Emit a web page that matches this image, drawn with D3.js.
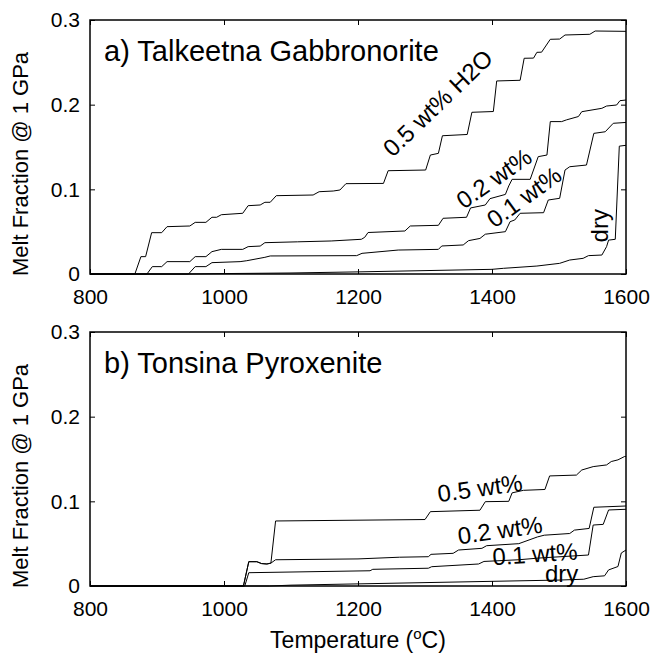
<!DOCTYPE html>
<html>
<head>
<meta charset="utf-8">
<script src="https://cdn.jsdelivr.net/npm/d3@7"></script>
<style>
  body { margin: 0; background: #fff; }
  svg { font-family: "Liberation Sans", Arial, Helvetica, sans-serif; }
  .curve { fill: none; stroke: #000; stroke-width: 1; }
  .tick line { stroke: #000; stroke-width: 1; }
  .tick text { font-size: 21px; fill: #000; }
  .lbl { font-size: 22px; fill: #000; }
  .curve-label { font-size: 24px; }
</style>
</head>
<body>
<svg id="chart"></svg>
<script>
const width = 663;
const height = 655;

// x / y ticks
const tempTicks = [800, 1000, 1200, 1400, 1600];
const fracTicks = [0, 0.1, 0.2, 0.3];

// a) Talkeetna Gabbronorite  [temperature C, melt fraction]
const gabbroWet05 = [[800,0],[867,0],[876,0.0205],[883,0.0205],[892,0.0488],[907,0.0488],[915,0.0559],[949,0.0567],[957,0.061],[973,0.061],[982,0.067],[989,0.067],[996,0.070],[1028,0.0717],[1036,0.0807],[1054,0.0815],[1061,0.0847],[1069,0.0847],[1078,0.0925],[1133,0.0933],[1142,0.0972],[1163,0.098],[1173,0.0992],[1182,0.1067],[1238,0.107],[1245,0.122],[1301,0.1228],[1308,0.1405],[1320,0.1425],[1326,0.1633],[1363,0.1648],[1370,0.191],[1402,0.1919],[1407,0.228],[1442,0.2288],[1448,0.2548],[1462,0.255],[1467,0.2618],[1474,0.262],[1487,0.2772],[1501,0.2775],[1509,0.2823],[1546,0.2831],[1554,0.287],[1600,0.2866]];
const gabbroWet02 = [[800,0],[885,0],[893,0.0087],[907,0.0087],[915,0.0146],[949,0.0146],[957,0.0205],[973,0.0205],[982,0.0264],[996,0.0291],[1028,0.0291],[1036,0.0323],[1054,0.033],[1061,0.037],[1110,0.038],[1160,0.039],[1205,0.041],[1210,0.0433],[1215,0.049],[1270,0.0508],[1278,0.0567],[1320,0.0575],[1327,0.0658],[1362,0.067],[1368,0.078],[1390,0.0815],[1397,0.089],[1420,0.094],[1425,0.104],[1430,0.1118],[1457,0.1118],[1469,0.1386],[1482,0.1405],[1487,0.18],[1504,0.18],[1511,0.182],[1529,0.186],[1534,0.1917],[1564,0.1957],[1571,0.1984],[1586,0.1996],[1591,0.2047],[1600,0.2055]];
const gabbroWet01 = [[800,0],[947,0],[957,0.0087],[973,0.0087],[982,0.0134],[1024,0.0146],[1034,0.0157],[1061,0.0197],[1069,0.0213],[1198,0.0217],[1206,0.0244],[1260,0.0283],[1320,0.0291],[1325,0.0331],[1357,0.0343],[1365,0.0394],[1382,0.042],[1390,0.047],[1420,0.050],[1427,0.0618],[1434,0.0638],[1442,0.0717],[1477,0.0724],[1484,0.0874],[1501,0.0894],[1509,0.1228],[1516,0.1267],[1541,0.1287],[1552,0.1661],[1569,0.168],[1581,0.178],[1600,0.179]];
const gabbroDry = [[800,0],[945,0],[1000,0.0005],[1100,0.0012],[1200,0.0025],[1300,0.004],[1400,0.0055],[1417,0.0067],[1467,0.0094],[1501,0.0126],[1516,0.0165],[1536,0.0185],[1544,0.0217],[1564,0.0224],[1571,0.0323],[1574,0.040],[1584,0.041],[1590,0.151],[1600,0.152]];

// b) Tonsina Pyroxenite
const pyroxWet05 = [[800,0],[1029,0],[1037,0.0287],[1049,0.0287],[1056,0.0265],[1064,0.026],[1070,0.027],[1077,0.0768],[1300,0.0785],[1308,0.0878],[1382,0.0895],[1390,0.0996],[1425,0.100],[1430,0.110],[1447,0.113],[1479,0.114],[1486,0.13],[1526,0.131],[1534,0.137],[1551,0.141],[1571,0.143],[1578,0.147],[1588,0.149],[1598,0.153],[1600,0.153]];
const pyroxWet02 = [[800,0],[1029,0],[1037,0.0287],[1049,0.0287],[1056,0.0265],[1064,0.026],[1070,0.027],[1077,0.031],[1200,0.032],[1262,0.034],[1305,0.0346],[1309,0.0374],[1342,0.0386],[1350,0.0425],[1385,0.0445],[1392,0.0476],[1440,0.05],[1468,0.058],[1478,0.06],[1516,0.062],[1523,0.066],[1545,0.068],[1552,0.093],[1600,0.0945]];
const pyroxWet01 = [[800,0],[1031,0],[1037,0.0157],[1218,0.018],[1222,0.0197],[1305,0.021],[1310,0.0228],[1380,0.026],[1388,0.029],[1440,0.031],[1470,0.033],[1544,0.0366],[1551,0.072],[1566,0.0728],[1574,0.0898],[1600,0.0906]];
const pyroxDry = [[800,0],[1068,0],[1100,0.001],[1200,0.0025],[1300,0.004],[1400,0.0055],[1500,0.007],[1537,0.008],[1551,0.011],[1568,0.012],[1574,0.019],[1588,0.023],[1593,0.039],[1600,0.0425]];

const margin = { left: 90, right: 37 };
const plotW = width - margin.left - margin.right;
const plotH = 254;

const svg = d3.select('#chart')
  .attr('width', width)
  .attr('height', height);

const x = d3.scaleLinear().domain([800, 1600]).range([0, plotW]);
const y = d3.scaleLinear().domain([0, 0.3]).range([plotH, 0]);

const line = d3.line()
  .x(d => x(d[0]))
  .y(d => y(d[1]));

const panels = [
  {
    top: 20,
    title: 'a) Talkeetna Gabbronorite',
    series: [gabbroWet05, gabbroWet02, gabbroWet01, gabbroDry],
    // label text, centre (data units), rotation
    labels: [
      ['0.5 wt% H2O', 1319, 0.202, -44],
      ['0.2 wt%', 1403, 0.113, -35],
      ['0.1 wt%', 1448, 0.091, -36],
      ['dry', 1561, 0.057, -90]
    ]
  },
  {
    top: 332,
    title: 'b) Tonsina Pyroxenite',
    series: [pyroxWet05, pyroxWet02, pyroxWet01, pyroxDry],
    labels: [
      ['0.5 wt%', 1382, 0.1157, -8],
      ['0.2 wt%', 1412, 0.066, -8],
      ['0.1 wt%', 1464, 0.0378, -4],
      ['dry', 1504, 0.0142, 0]
    ]
  }
];

panels.forEach(p => {
  const g = svg.append('g')
    .attr('transform', `translate(${margin.left},${p.top})`);

  // bottom / left axes with labels, ticks pointing inward
  g.append('g')
    .attr('transform', `translate(0,${plotH})`)
    .call(d3.axisBottom(x).tickValues(tempTicks).tickSizeInner(-5).tickSizeOuter(0).tickPadding(15).tickFormat(d3.format('d')))
    .call(a => a.select('.domain').remove());

  g.append('g')
    .call(d3.axisLeft(y).tickValues(fracTicks).tickSizeInner(-5).tickSizeOuter(0).tickPadding(10).tickFormat(d => d === 0 ? '0' : d3.format('.1f')(d)))
    .call(a => a.select('.domain').remove());

  // top / right ticks, no labels
  g.append('g')
    .call(d3.axisTop(x).tickValues(tempTicks).tickSizeInner(-5).tickSizeOuter(0).tickFormat(''))
    .call(a => a.select('.domain').remove());

  g.append('g')
    .attr('transform', `translate(${plotW},0)`)
    .call(d3.axisRight(y).tickValues(fracTicks).tickSizeInner(-5).tickSizeOuter(0).tickFormat(''))
    .call(a => a.select('.domain').remove());

  g.selectAll('path.curve')
    .data(p.series)
    .join('path')
    .attr('class', 'curve')
    .attr('d', line);

  g.append('rect')
    .attr('width', plotW)
    .attr('height', plotH)
    .attr('fill', 'none')
    .attr('stroke', '#000')
    .attr('stroke-width', 1.5);

  g.append('text')
    .attr('x', 14)
    .attr('y', 41)
    .attr('font-size', 29)
    .text(p.title);

  g.selectAll('text.curve-label')
    .data(p.labels)
    .join('text')
    .attr('class', 'lbl curve-label')
    .attr('text-anchor', 'middle')
    .attr('dy', '0.35em')
    .attr('transform', d => `translate(${x(d[1])},${y(d[2])}) rotate(${d[3]})`)
    .text(d => d[0]);

  g.append('text')
    .attr('class', 'lbl')
    .attr('text-anchor', 'middle')
    .attr('transform', `translate(-62,${plotH / 2 + 17}) rotate(-90)`)
    .text('Melt Fraction @ 1 GPa');
});

const xl = svg.append('text')
  .attr('class', 'lbl')
  .attr('font-size', 23)
  .style('font-size', '23px')
  .attr('text-anchor', 'middle')
  .attr('x', margin.left + plotW / 2)
  .attr('y', 648);
xl.append('tspan').text('Temperature (');
xl.append('tspan').attr('font-size', 15).attr('dy', -9).text('o');
xl.append('tspan').attr('dy', 9).text('C)');
</script>
</body>
</html>
